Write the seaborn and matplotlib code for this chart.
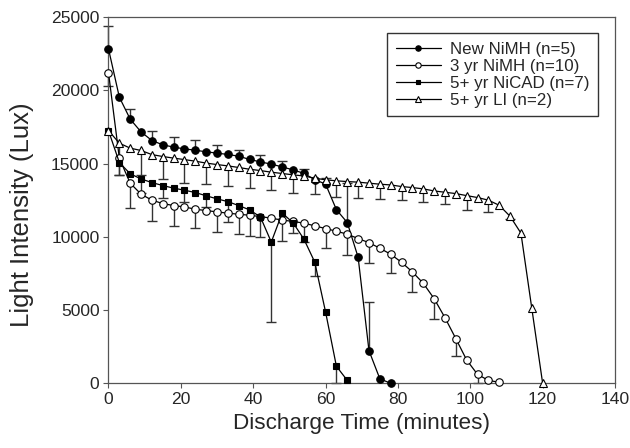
import matplotlib
matplotlib.use('Agg')
import matplotlib.pyplot as plt
import seaborn as sns

# discharge time (minutes) and mean light intensity (lux) for each battery group
new_nimh_t = [0, 3, 6, 9, 12, 15, 18, 21, 24, 27, 30, 33, 36, 39, 42, 45, 48, 51, 54, 57,
              60, 63, 66, 69, 72, 75, 78]
new_nimh_lux = [22830, 19530, 18030, 17160, 16570, 16280, 16120, 16000, 15910, 15800, 15710,
                15620, 15500, 15280, 15110, 14960, 14770, 14570, 14330, 13900, 13600, 11850,
                10970, 8600, 2230, 310, 0]

old_nimh_t = [0, 3, 6, 9, 12, 15, 18, 21, 24, 27, 30, 33, 36, 39, 42, 45, 48, 51, 54, 57,
              60, 63, 66, 69, 72, 75, 78, 81, 84, 87, 90, 93, 96, 99, 102, 105, 108]
old_nimh_lux = [21210, 15360, 13660, 12910, 12500, 12270, 12130, 12040, 11880, 11790, 11700,
                11610, 11540, 11470, 11380, 11270, 11140, 11050, 10930, 10750, 10560, 10380,
                10180, 9880, 9600, 9220, 8810, 8260, 7600, 6830, 5780, 4480, 3050, 1590, 610,
                200, 70]

nicad_t = [0, 3, 6, 9, 12, 15, 18, 21, 24, 27, 30, 33, 36, 39, 42, 45, 48, 51, 54, 57, 60,
           63, 66]
nicad_lux = [17250, 15070, 14300, 13950, 13700, 13500, 13320, 13180, 13020, 12800, 12590,
             12400, 12130, 11840, 11350, 9640, 11620, 10960, 9850, 8280, 4870, 1160, 200]

li_t = [0, 3, 6, 9, 12, 15, 18, 21, 24, 27, 30, 33, 36, 39, 42, 45, 48, 51, 54, 57, 60, 63,
        66, 69, 72, 75, 78, 81, 84, 87, 90, 93, 96, 99, 102, 105, 108, 111, 114, 117, 120]
li_lux = [17250, 16390, 16050, 15890, 15610, 15480, 15370, 15270, 15160, 15030, 14930, 14840,
          14730, 14610, 14520, 14410, 14320, 14230, 14150, 14000, 13890, 13820, 13770, 13730,
          13660, 13590, 13540, 13430, 13360, 13270, 13130, 13040, 12950, 12810, 12680, 12500,
          12150, 11400, 10250, 5120, 0]

# one-sided error bars: where each bar ends
new_nimh_err_t = [0, 6, 12, 18, 24, 30, 36, 42, 48, 54, 60, 66, 72]
new_nimh_err_end = [24360, 18730, 17250, 16840, 16600, 16280, 15930, 15590, 15160, 14640,
                    14000, 13700, 5570]
old_nimh_err_t = [0, 6, 12, 18, 24, 30, 36, 42, 48, 54, 60, 66, 72, 78, 84, 90, 96, 102]
old_nimh_err_end = [20260, 11950, 11110, 10770, 10590, 10360, 10200, 10020, 9740, 9650, 9220,
                    8760, 8240, 7510, 6260, 4370, 1860, 0]
nicad_err_t = [3, 9, 15, 21, 27, 33, 39, 45, 51, 57, 63]
nicad_err_end = [14200, 13000, 12630, 12400, 12000, 11040, 10060, 4210, 10290, 7310, 0]
li_err_t = [3, 9, 15, 21, 27, 33, 39, 45, 51, 57, 63, 69, 75, 81, 87, 93, 99, 105, 111]
li_err_end = [14230, 14230, 13940, 13700, 13610, 13480, 13320, 13160, 13020, 12910, 12750,
              12680, 12590, 12500, 12360, 12250, 11840, 11680, 11200]

labels = ["New NiMH (n=5)", "3 yr NiMH (n=10)", "5+ yr NiCAD (n=7)", "5+ yr LI (n=2)"]

sns.set_style("ticks")
plt.rcParams['font.family'] = ['Liberation Sans', 'DejaVu Sans']

fig = plt.figure(figsize=(6.3, 4.48), dpi=100)
ax = fig.add_axes([0.1722, 0.1444, 0.8040, 0.8176])

frame = '#555555'


def draw_errors(t, lux, err_t, err_end, up):
    lookup = dict(zip(t, lux))
    mid = [lookup[v] for v in err_t]
    if up:
        yerr = [[0] * len(mid), [e - m for e, m in zip(err_end, mid)]]
    else:
        yerr = [[m - e for e, m in zip(err_end, mid)], [0] * len(mid)]
    eb = ax.errorbar(err_t, mid, yerr=yerr, fmt='none', ecolor='#333333', elinewidth=1,
                     capsize=3.8, capthick=1, zorder=1, clip_on=False)
    # hide the cap that sits on the marker
    eb[1][0 if up else 1].set_visible(False)


draw_errors(new_nimh_t, new_nimh_lux, new_nimh_err_t, new_nimh_err_end, True)
draw_errors(old_nimh_t, old_nimh_lux, old_nimh_err_t, old_nimh_err_end, False)
draw_errors(nicad_t, nicad_lux, nicad_err_t, nicad_err_end, False)
draw_errors(li_t, li_lux, li_err_t, li_err_end, False)

series = [
    (new_nimh_t, new_nimh_lux, 'o', 'black', 5.4),
    (old_nimh_t, old_nimh_lux, 'o', 'white', 5.4),
    (nicad_t, nicad_lux, 's', 'black', 4.8),
    (li_t, li_lux, '^', 'white', 5.6),
]
for (t, lux, m, face, ms), lab in zip(series, labels):
    sns.lineplot(x=t, y=lux, ax=ax, color='black', linewidth=0.9, marker=m, markersize=ms,
                 markerfacecolor=face, markeredgecolor='black', markeredgewidth=0.8,
                 label=lab, zorder=3, clip_on=False)

ax.set_xlim(0, 140)
ax.set_ylim(0, 25000)
ax.set_xticks([0, 20, 40, 60, 80, 100, 120, 140])
ax.set_yticks([0, 5000, 10000, 15000, 20000, 25000])
ax.tick_params(axis='both', direction='out', length=3.5, width=0.8, color=frame,
               labelsize=12.6, pad=3)
for s in ax.spines.values():
    s.set_visible(True)
    s.set_color(frame)
    s.set_linewidth(0.9)

ax.set_xlabel("Discharge Time (minutes)", fontsize=16.2, labelpad=4)
ax.set_ylabel("Light Intensity (Lux)", fontsize=18.5)
ax.yaxis.set_label_coords(-0.148, 0.46)

leg = ax.legend(loc='upper right', bbox_to_anchor=(0.966, 0.956), borderaxespad=0,
                fontsize=12.2, frameon=True, fancybox=False, edgecolor='black',
                handlelength=2.7, handletextpad=0.5, labelspacing=0.12, borderpad=0.5,
                markerscale=0.72)
leg.get_frame().set_linewidth(1.0)

fig.savefig('out.png', dpi=100)
plt.close(fig)
